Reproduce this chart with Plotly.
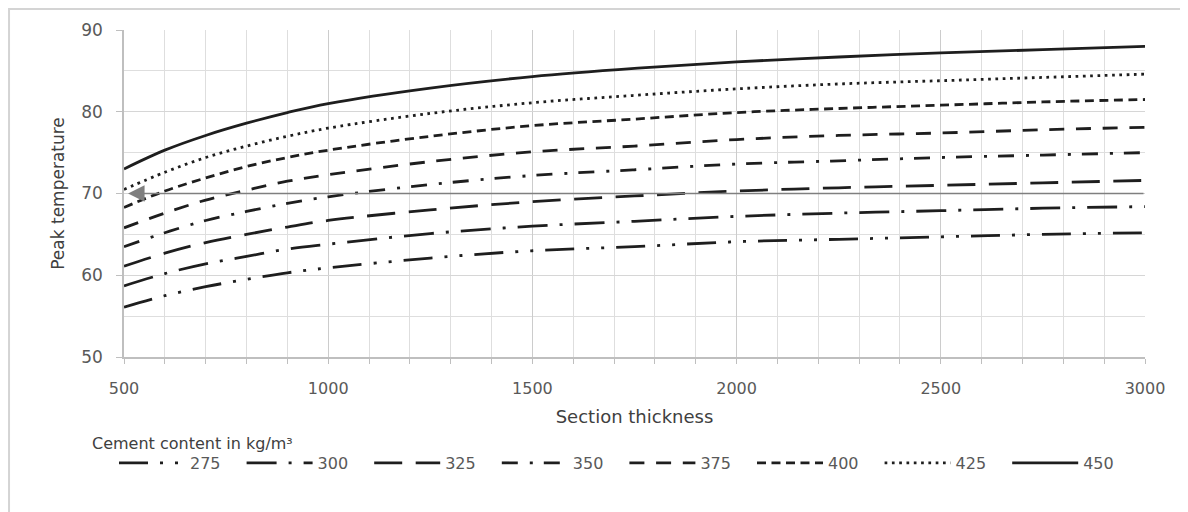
import plotly.graph_objects as go

# ---- data ----
section_thickness = [500, 600, 700, 800, 900, 1000, 1250, 1500, 1750, 2000, 2250, 2500, 2750, 3000]
cement_labels = ["275", "300", "325", "350", "375", "400", "425", "450"]
temp_275 = [56.1, 57.5, 58.6, 59.5, 60.3, 60.9, 62.1, 63.0, 63.5, 64.1, 64.4, 64.7, 65.0, 65.2]
temp_300 = [58.7, 60.2, 61.4, 62.3, 63.2, 63.8, 65.1, 66.0, 66.6, 67.2, 67.6, 67.9, 68.2, 68.4]
temp_325 = [61.1, 62.7, 64.0, 65.0, 65.9, 66.7, 68.0, 69.0, 69.7, 70.3, 70.7, 71.0, 71.3, 71.6]
temp_350 = [63.5, 65.2, 66.7, 67.8, 68.8, 69.6, 71.1, 72.2, 72.9, 73.6, 74.0, 74.4, 74.7, 75.0]
temp_375 = [65.8, 67.6, 69.2, 70.4, 71.5, 72.3, 73.9, 75.1, 75.8, 76.6, 77.1, 77.4, 77.8, 78.1]
temp_400 = [68.3, 70.3, 71.9, 73.3, 74.4, 75.3, 77.0, 78.3, 79.1, 79.9, 80.4, 80.8, 81.2, 81.5]
temp_425 = [70.5, 72.6, 74.4, 75.8, 77.0, 78.0, 79.8, 81.1, 82.0, 82.8, 83.4, 83.8, 84.2, 84.6]
temp_450 = [73.0, 75.3, 77.1, 78.6, 79.9, 81.0, 82.9, 84.3, 85.3, 86.1, 86.7, 87.2, 87.6, 88.0]
threshold_temp = 70
threshold_start = 510

series = [temp_275, temp_300, temp_325, temp_350, temp_375, temp_400, temp_425, temp_450]
dashes = [
    "29px,12px,3px,12px,3px,12px",
    "30px,12px,3px,12px",
    "28px,13.5px",
    "16px,12px,3px,11px",
    "15px,11.7px",
    "9px,5.5px",
    "2.7px,4.6px",
    "solid",
]

FONT = "DejaVu Sans"
fig = go.Figure()
for lab, ys, d in zip(cement_labels, series, dashes):
    fig.add_trace(go.Scatter(
        x=section_thickness, y=ys, name=lab, mode="lines",
        line=dict(color="#1e1e1e", width=2.8, dash=d, shape="spline", smoothing=1.0),
    ))

# page body has an 8px margin: size/margins compensate so the plot area sits at
# x 124..1145, y 30..357 of the window
fig.update_layout(
    width=1180, height=504,
    margin=dict(l=116, r=43, t=22, b=155),
    paper_bgcolor="white", plot_bgcolor="white",
    font=dict(family=FONT, color="#595959", size=16),
    showlegend=True,
    legend=dict(
        orientation="h", x=-0.0098, xanchor="left", y=-0.324, yanchor="middle",
        itemwidth=66,
        entrywidth=46.6, entrywidthmode="pixels",
        font=dict(family=FONT, size=16, color="#595959"),
        bgcolor="rgba(0,0,0,0)", itemclick=False,
    ),
)

fig.update_xaxes(
    range=[500, 3000], tick0=500, dtick=500,
    showgrid=True, gridcolor="#cccccc", gridwidth=1,
    minor=dict(dtick=100, showgrid=True, gridcolor="#dedede", ticks="outside",
               ticklen=5, tickcolor="#bfbfbf"),
    ticks="outside", ticklen=5, tickcolor="#bfbfbf",
    ticklabelstandoff=11,
    showline=True, linecolor="#bfbfbf", linewidth=1.5, zeroline=False,
    tickfont=dict(family=FONT, size=16, color="#595959"),
    title=dict(text="Section thickness", standoff=13,
               font=dict(family=FONT, size=18, color="#404040")),
)
fig.update_yaxes(
    range=[50, 90], tick0=50, dtick=10,
    showgrid=True, gridcolor="#d6d6d6", gridwidth=1,
    minor=dict(dtick=5, showgrid=True, gridcolor="#dedede"),
    ticks="outside", ticklen=6, tickcolor="#bfbfbf",
    ticklabelstandoff=10,
    showline=True, linecolor="#bfbfbf", linewidth=1.5, zeroline=False,
    tickfont=dict(family=FONT, size=17, color="#595959"),
    title=dict(text="Peak temperature", standoff=12,
               font=dict(family=FONT, size=17, color="#404040")),
)

# threshold line with arrow at 70
fig.add_annotation(
    x=threshold_start, y=threshold_temp, ax=section_thickness[-1], ay=threshold_temp,
    xref="x", yref="y", axref="x", ayref="y", text="",
    showarrow=True, arrowhead=2, arrowsize=2.2, arrowwidth=1.5, arrowcolor="#7f7f7f",
)

# legend title
fig.add_annotation(
    x=-0.0333, y=-0.263, xref="paper", yref="paper", xanchor="left", yanchor="middle",
    text="Cement content in kg/m³", showarrow=False,
    font=dict(family=FONT, size=16, color="#404040"),
)

# outer frame (top-left corner of the figure area)
fig.add_shape(type="rect", xref="paper", yref="paper",
              x0=-0.1126, y0=-0.7, x1=1.2, y1=1.0642,
              line=dict(color="#d4d4d4", width=2), fillcolor="rgba(0,0,0,0)")

fig.write_html("out.html")
